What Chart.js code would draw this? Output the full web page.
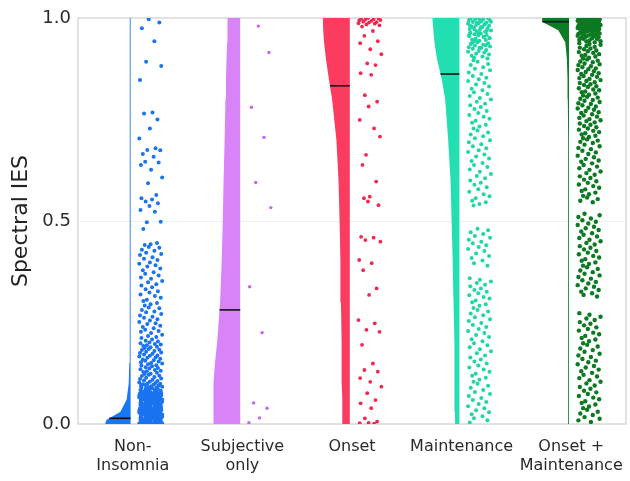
<!DOCTYPE html>
<html>
<head>
<meta charset="utf-8">
<script src="https://cdn.jsdelivr.net/npm/chart.js@4.4.0/dist/chart.umd.min.js"></script>
<style>
  html, body { margin: 0; padding: 0; background: #fff; }
  #wrap { width: 630px; height: 481px; }
</style>
</head>
<body>
<div id="wrap"><canvas id="chart" width="630" height="481"></canvas></div>
<script>
// Categories and summary values
const CATEGORIES = [['Non-', 'Insomnia'], ['Subjective', 'only'], ['Onset'], ['Maintenance'], ['Onset +', 'Maintenance']];
const MEDIANS = [0.014, 0.281, 0.833, 0.862, 0.991];
const Y_TICKS = [0, 0.5, 1];

// Half-violin density profile (relative width) at these levels
const VIOLIN_Y = [0, .01, .03, .06, .1, .15, .2, .3, .4, .5, .6, .7, .8, .85, .9, .94, .97, .99, 1];
const DENS_NON = [.95, .9, .38, .15, .07, .05, .042, .036, .033, .03, .03, .03, .03, .03, .03, .03, .03, .03, .03];
const DENS_SUBJ = [.99, 1, 1, 1, .98, .94, .86, .75, .69, .65, .62, .58, .55, .53, .51, .49, .48, .47, .47];
const DENS_ONSET = [.26, .27, .28, .29, .3, .3, .31, .33, .35, .38, .42, .5, .66, .78, .89, .96, .99, 1, 1];
const DENS_MAINT = [.16, .16, .165, .17, .18, .19, .2, .22, .25, .29, .33, .42, .53, .66, .84, .93, .97, .99, 1];
const DENS_OM = [.03, .03, .03, .03, .03, .03, .03, .03, .03, .03, .032, .036, .045, .055, .08, .14, .4, .99, 1];

const PTS_NON = [
  .997, .989, .975, .943, .892, .882, .847, .767, .765, .75, .728, .703, .679, .675, .674, .665, .658, .646, .644, .638,
  .626, .607, .593, .564, .556, .553, .548, .544, .537, .527, .523, .498, .497, .48,
  .446, .443, .441, .436, .434, .429, .427, .422, .419, .416, .411, .407, .404, .398, .395, .391, .388, .383, .379, .374,
  .37, .366, .361, .358, .352, .349, .344, .341, .337, .332, .327, .324, .319, .315, .311, .306, .303,
  .298, .295, .292, .287, .285, .281, .277, .275, .271, .267, .264, .262, .258, .255, .251, .248, .246, .242, .239, .236,
  .232, .229, .227, .224, .22, .217, .214, .212, .208, .205, .203, .201,
  .199, .197, .196, .194, .192, .19, .189, .187, .185, .183, .182, .18, .178, .176, .175, .173, .171, .169, .168, .166,
  .164, .163, .161, .159, .157, .156, .154, .152, .15, .149, .147, .145, .144, .142, .14, .138, .137, .135, .133, .131,
  .13, .128, .126, .124, .123, .121, .119, .118, .116, .114, .112, .111, .109, .107, .106, .104, .102, .101,
  .1, .099, .098, .097, .096, .095, .094, .093, .092, .091, .09, .089, .088, .087, .086, .085, .084, .083, .082, .081,
  .08, .079, .078, .077, .076, .075, .074, .073, .072, .071, .07, .069, .068, .067, .066, .065, .064, .063, .062, .061,
  .06, .059, .058, .057, .056, .055, .054, .053, .052, .051, .05, .049, .048, .047, .046, .045, .044, .043, .042, .041,
  .04, .039, .038, .037, .036, .035, .034, .033, .032, .031, .03, .029, .028, .027, .026, .025, .024, .023, .022, .021,
  .02, .019, .018, .017, .016, .015, .014, .013, .012, .011, .01, .009, .008, .007, .006, .005, .004, .003, .002, .001,
  .0795, .0785, .0775, .0765, .0755, .0745, .0735, .0725, .0715, .0705, .0695, .0685, .0675, .0665, .0655, .0645,
  .0635, .0625, .0615, .0605, .0595, .0585, .0575, .0565, .0555, .0545, .0535, .0525, .0515, .0505, .0495, .0485,
  .0475, .0465, .0455, .0445, .0435, .0425, .0415, .0405, .0395, .0385, .0375, .0365, .0355, .0345, .0335, .0325,
  .0315, .0305, .0295, .0285, .0275, .0265, .0255, .0245, .0235, .0225, .0215, .0205, .0195, .0185, .0175, .0165,
  .0155, .0145, .0135, .0125, .0115, .0105, .0095, .0085, .0075, .0065, .0055, .0045, .0035, .0025, .0015, .0005,
  .004, .003, .002, .001, 0, .008, .006, .002, 0, .001, .003, .005, 0, .002, .004
];
const PTS_SUBJ = [.98, .915, .78, .706, .595, .533, .338, .225, .052, .039, .015, .003];
const PTS_ONSET = [
  1, .999, .998, .997, .996, .995, .994, .993, .991, .99, .989, .987, .986, .984, .982, .979, .968, .956, .943, .938,
  .923, .911, .888, .884, .864, .86, .81, .794, .782, .749, .728, .708, .663, .638, .597, .56, .556, .548, .539,
  .461, .459, .453, .449, .404, .396, .379, .334, .318, .256, .248, .232, .227, .195, .149, .133, .129, .113, .104,
  .092, .076, .059, .051, .039, .014, .006, .003, .002, .001
];
const PTS_MAINT = [
  1, .999, .998, .997, .996, .994, .993, .992, .99, .989, .987, .986, .984, .983, .981, .979, .978, .976, .974, .973,
  .971, .969, .967, .966, .964, .962, .96, .958, .957, .955, .953, .951, .949, .947, .946, .944, .942, .94, .938, .936,
  .934, .932, .93, .928, .926, .924, .921, .919, .917, .915, .912, .91, .907, .905, .902, .9,
  .998, .995, .991, .988, .985, .98, .977, .972, .968, .963, .959, .954, .95, .945, .939, .933, .927,
  .896, .892, .887, .884, .879, .875, .871, .866, .862, .857, .853, .849, .845, .84, .836, .831, .826, .822, .817, .813,
  .808, .803, .799, .794, .789, .785, .781, .776, .771, .766, .761, .757, .752, .747, .742, .737, .733, .728, .723, .718,
  .713, .709, .704, .699, .694, .689, .684, .679, .674, .67, .664, .659, .654, .648, .643, .638, .633, .627, .621, .616,
  .611, .605, .6, .594, .589, .583, .578, .572, .566, .561, .556, .55, .546, .542, .538,
  .481, .477, .472, .468, .463, .459, .454, .449, .445, .44, .436, .431, .426, .42, .414, .409, .403, .396, .39,
  .359, .355, .351, .347, .343, .339, .334, .33, .326, .322, .317, .313, .309, .304, .3, .295, .291, .286, .281, .277,
  .272, .268, .263, .258, .254, .249, .244, .239, .234, .229, .224, .219, .214, .209, .204, .199, .194, .189, .184, .179,
  .174, .169, .164, .159, .154, .149, .144, .139, .134, .129, .124, .119, .114, .109, .104, .099, .094, .089, .084, .079,
  .074, .069, .064, .059, .054, .049, .044, .039, .034, .029, .024, .019, .014, .009, .004
];
const PTS_OM = [
  1, 1, .999, .999, .998, .997, .997, .996, .995, .994, .994, .993, .992, .991, .99, .989, .988, .987, .986, .985,
  .984, .983, .982, .981, .98, .979, .978, .977, .976, .975, .974, .973, .972, .971, .97, .969, .968, .967, .966, .965,
  .964, .963, .962, .961, .96, .959, .958, .957, .956, .955, .954, .953, .951, .95, .949, .948, .946, .945, .943, .942, .94,
  .9995, .9985, .9975, .9965, .9955, .9945, .9935, .9925, .9915, .9905, .9895, .9885, .9875, .9865, .9855, .9845,
  .9835, .9825, .9815, .9805, .9795, .9785, .9775, .9765, .9755, .9745, .9735, .9725, .9715, .9705, .969, .967,
  .938, .936, .934, .931, .929, .927, .925, .923, .92, .918, .916, .914, .911, .909, .907, .905, .902, .9, .898, .895,
  .893, .891, .888, .886, .884, .881, .879, .876, .874, .872, .869, .867, .864, .862, .86, .857, .855, .852, .85, .847,
  .845, .842, .84, .837, .835, .832, .83, .827, .824, .822, .819, .817, .814, .811, .809, .806, .804, .801, .798, .796,
  .793, .79, .788, .785, .782, .779, .777, .774, .771, .768, .766, .763, .76, .757, .754, .751, .748, .746, .743, .74,
  .737, .734, .731, .728, .725, .722, .719, .716, .713, .71, .707, .704, .701, .698, .695, .692,
  .688, .684, .68, .677, .673, .669, .665, .661, .657, .653, .649, .646, .642, .638, .634, .63, .626, .622, .618, .614,
  .61, .606, .602, .598, .594, .59, .586, .582, .578, .574, .57, .566, .562, .558, .554, .55, .546,
  .518, .514, .51, .506, .502, .498, .494, .49, .486, .482, .478, .474, .47, .466, .462, .458, .454, .45, .446, .442,
  .438, .434, .43, .426, .422, .418, .414, .41, .406, .402, .398, .394, .39, .386, .382, .378, .374, .37, .366, .362,
  .358, .354, .35, .346, .342, .338, .334, .33, .326, .322, .318, .314,
  .273, .269, .264, .26, .256, .251, .247, .243, .238, .234, .23, .225, .221, .217, .212, .208, .204, .199, .195, .191,
  .186, .182, .178, .173, .169, .165, .16, .156, .152, .147, .143, .139, .134, .13, .126, .121, .117, .113, .108, .104,
  .1, .095, .091, .087, .082, .078, .074, .069, .065, .061, .056, .052, .048, .043, .039, .035, .03, .026, .022, .017,
  .013, .009, .005
];

const DENSITIES = [DENS_NON, DENS_SUBJ, DENS_ONSET, DENS_MAINT, DENS_OM];
const POINTS = [PTS_NON, PTS_SUBJ, PTS_ONSET, PTS_MAINT, PTS_OM];

// Styling
const VIOLIN_COLORS = ['#1877f2', '#d884f8', '#fb3b5f', '#22deb0', '#0c7d24'];
const POINT_COLORS = ['#1a73f0', '#c462f3', '#f3264f', '#1fd6a5', '#0b7a22'];
const POINT_RADII = [2, 1.7, 1.9, 2, 2.2];
const JITTER = [0.42, 0.87, 0.13, 0.66, 0.31, 0.95, 0.05, 0.58, 0.22, 0.79, 0.47, 0.02, 0.71, 0.36, 0.91, 0.17, 0.63,
                0.27, 0.84, 0.09, 0.52, 0.99, 0.39, 0.74, 0.11, 0.56, 0.29, 0.81, 0.45, 0.07, 0.68, 0.93, 0.34, 0.19,
                0.77, 0.5, 0.25];
const VIOLIN_W = 0.245;   // max half-violin width, in category units
const EDGE_GAP = 0.02;    // gap between category centre and violin edge
const CLOUD_START = 0.055;
const CLOUD_W = 0.215;
const FONT = "'DejaVu Sans', sans-serif";

// Build datasets
const datasets = [];

CATEGORIES.forEach((cat, i) => {
    const edge = i + 0.5 - EDGE_GAP;
    const dens = DENSITIES[i];

    // half violin outline, closed along the right edge
    const outline = [{ x: edge, y: 0 }];
    VIOLIN_Y.forEach((y, k) => outline.push({ x: edge - dens[k] * VIOLIN_W, y: y }));
    outline.push({ x: edge, y: 1 });
    outline.push({ x: edge, y: 0 });

    datasets.push({
        data: outline,
        showLine: true,
        fill: 'shape',
        backgroundColor: VIOLIN_COLORS[i],
        borderColor: VIOLIN_COLORS[i],
        borderWidth: 0,
        pointRadius: 0,
        tension: 0,
        order: 3
    });

    // median line across the violin
    const m = MEDIANS[i];
    let k = 0;
    while (k < VIOLIN_Y.length - 2 && VIOLIN_Y[k + 1] < m) k++;
    const t = (m - VIOLIN_Y[k]) / (VIOLIN_Y[k + 1] - VIOLIN_Y[k]);
    const w = dens[k] + (dens[k + 1] - dens[k]) * t;
    datasets.push({
        data: [{ x: edge - w * VIOLIN_W, y: m }, { x: edge, y: m }],
        showLine: true,
        borderColor: '#111111',
        borderWidth: 1.6,
        pointRadius: 0,
        order: 0
    });

    // jittered raw points
    datasets.push({
        data: POINTS[i].map((v, n) => ({
            x: i + 0.5 + CLOUD_START + JITTER[n % JITTER.length] * CLOUD_W,
            y: v
        })),
        backgroundColor: POINT_COLORS[i],
        borderWidth: 0,
        pointRadius: POINT_RADII[i],
        order: 1
    });
});

// Light frame around the plot area
const framePlugin = {
    id: 'frame',
    beforeDatasetsDraw(chart) {
        const { ctx, chartArea: a } = chart;
        ctx.save();
        ctx.strokeStyle = '#d9d9d9';
        ctx.lineWidth = 1.5;
        ctx.strokeRect(a.left, a.top, a.right - a.left, a.bottom - a.top);
        ctx.restore();
    }
};

const ctx = document.getElementById('chart').getContext('2d');
new Chart(ctx, {
    type: 'scatter',
    data: { datasets },
    options: {
        responsive: false,
        animation: false,
        layout: { padding: { top: 18, right: 1, left: 0, bottom: 0 } },
        plugins: {
            legend: { display: false },
            tooltip: { enabled: false }
        },
        scales: {
            x: {
                type: 'linear',
                min: 0,
                max: CATEGORIES.length,
                grid: { display: false },
                border: { display: false },
                afterBuildTicks: (s) => { s.ticks = CATEGORIES.map((c, i) => ({ value: i + 0.5 })); },
                afterFit: (s) => { s.height = 57; },
                ticks: {
                    autoSkip: false,
                    maxRotation: 0,
                    padding: 5,
                    color: '#2a2a2a',
                    font: { family: FONT, size: 16 },
                    callback: (v, i) => CATEGORIES[i]
                }
            },
            y: {
                min: 0,
                max: 1,
                afterBuildTicks: (s) => { s.ticks = Y_TICKS.map(v => ({ value: v })); },
                afterFit: (s) => { s.width = 78; },
                grid: {
                    drawTicks: false,
                    color: (c) => c.tick && c.tick.value === 0.5 ? '#efefef' : 'rgba(0,0,0,0)'
                },
                border: { display: false },
                ticks: {
                    padding: 7,
                    color: '#2a2a2a',
                    font: { family: FONT, size: 18 },
                    callback: (v) => v.toFixed(1)
                },
                title: {
                    display: true,
                    text: 'Spectral IES',
                    color: '#222',
                    padding: { top: 8, bottom: 0 },
                    font: { family: FONT, size: 22 }
                }
            }
        }
    },
    plugins: [framePlugin]
});
</script>
</body>
</html>
